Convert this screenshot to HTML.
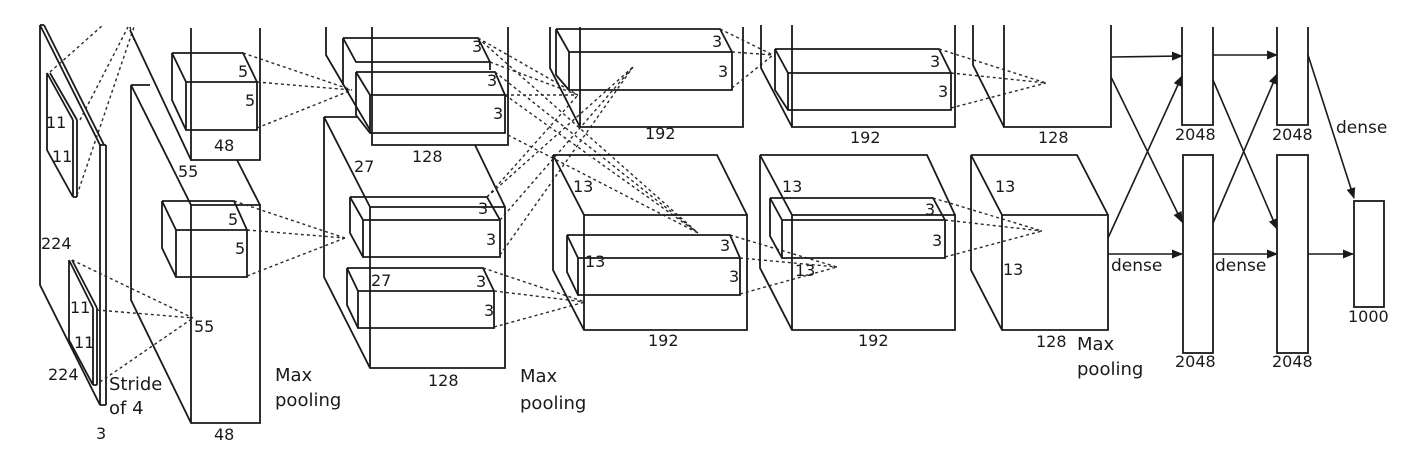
<!DOCTYPE html>
<html><head><meta charset="utf-8"><style>
html,body{margin:0;padding:0;background:#fff;}
svg{display:block;}
text{font-family:"DejaVu Sans","Liberation Sans",sans-serif;font-size:16px;fill:#1a1a1a;}
.s{stroke:#1a1a1a;stroke-width:1.8;fill:none;}
.d{stroke:#2a2a2a;stroke-width:1.4;stroke-dasharray:3,3;fill:none;}
.a{stroke:#1a1a1a;stroke-width:1.6;fill:none;marker-end:url(#ar);}
</style></head><body>
<svg width="1425" height="461" viewBox="0 0 1425 461" xmlns="http://www.w3.org/2000/svg">
<defs><marker id="ar" markerWidth="11" markerHeight="9" refX="10" refY="4.5" orient="auto" markerUnits="userSpaceOnUse"><path d="M0,0 L11,4.5 L0,9 Z" fill="#1a1a1a"/></marker></defs>

<!-- Input layer -->
<path class="s" d="M40,25 L40,285 L100,405 M40,25 L100,145 M44,25 L104,145 M40,25 L44,25 M100,145 L100,405 M106,145 L106,405 M100,145 L106,145 M100,405 L106,405"/>
<path class="s" d="M47,73 L47,150 L73,197 M47,73 L73,120 M50,73 L77,120 M73,120 L73,197 M77,120 L77,197 M73,197 L77,197"/>
<path class="s" d="M69,260 L69,340 L93,385 M69,260 L93,308 M72,260 L97,308 M93,308 L93,385 M97,308 L97,385 M93,385 L97,385"/>
<path class="d" d="M50,72 L103,25 M80,120 L128,27 M77,195 L134,27 M130,27 L134,40"/>
<path class="d" d="M72,260 L193,318 M97,310 L193,318 M100,382 L193,318"/>
<text x="46" y="128">11</text><text x="52" y="162">11</text>
<text x="70" y="313">11</text><text x="74" y="348">11</text>
<text x="41" y="249">224</text><text x="48" y="380">224</text>
<text x="96" y="439">3</text>
<text x="109" y="390" style="font-size:18px">Stride</text><text x="109" y="414" style="font-size:18px">of 4</text>
<text x="194" y="332">55</text>

<!-- Layer 2 -->
<path class="s" d="M191,28 L191,160 L260,160 L260,28 M130,30 L191,160 M237,160 L260,205"/>
<path class="s" d="M131,85 L131,300 L191,423 L260,423 L260,205 L191,205 M131,85 L150,85 M131,85 L191,205 M191,205 L191,423"/>
<path class="s" d="M172,53 L243,53 L257,82 M172,53 L172,100 L186,130 M172,53 L186,82 L257,82 L257,130 L186,130 L186,82"/>
<path class="s" d="M162,201 L234,201 L247,230 M162,201 L162,248 L176,277 M162,201 L176,230 L247,230 L247,277 L176,277 L176,230"/>
<path class="d" d="M243,53 L352,90 M257,82 L352,90 M257,128 L352,90 M234,201 L345,238 M247,230 L345,238 M247,276 L345,238"/>
<text x="238" y="77">5</text><text x="245" y="106">5</text>
<text x="228" y="225">5</text><text x="235" y="254">5</text>
<text x="178" y="177">55</text>
<text x="214" y="151">48</text><text x="214" y="440">48</text>
<text x="275" y="381" style="font-size:18px">Max</text><text x="275" y="406" style="font-size:18px">pooling</text>

<!-- Layer 3 -->
<path class="s" d="M326,27 L326,55 L370,130 M372,27 L372,145 L508,145 L508,27 M475,145 L505,207"/>
<path class="s" d="M343,38 L478,38 L490,62 M343,38 L343,85 M343,38 L356,62 L490,62 L490,70"/>
<path class="s" d="M356,72 L495,72 L505,95 M356,72 L356,115 L370,133 M356,72 L370,95 L505,95 L505,133 L370,133 L370,95"/>
<path class="s" d="M324,117 L324,277 L370,368 L505,368 L505,207 L370,207 M324,117 L357,117 M324,117 L370,207 M370,207 L370,368"/>
<path class="s" d="M350,197 L487,197 L500,220 M350,197 L350,233 L363,257 M350,197 L363,220 L500,220 L500,257 L363,257 L363,220"/>
<path class="s" d="M347,268 L483,268 L494,291 M347,268 L347,305 L358,328 M347,268 L358,291 L494,291 L494,328 L358,328 L358,291"/>
<path class="d" d="M478,38 L578,95 M490,62 L578,95 M505,95 L578,95 M478,38 L698,233 M495,72 L698,233 M505,95 L698,233 M508,135 L698,233"/>
<path class="d" d="M487,197 L633,67 M500,220 L633,67 M500,255 L633,67 M487,197 L578,95"/>
<path class="d" d="M483,268 L585,302 M494,291 L585,302 M494,327 L585,302"/>
<text x="472" y="52">3</text><text x="487" y="86">3</text><text x="493" y="119">3</text>
<text x="478" y="214">3</text><text x="486" y="245">3</text>
<text x="476" y="287">3</text><text x="484" y="316">3</text>
<text x="354" y="172">27</text><text x="371" y="286">27</text>
<text x="412" y="162">128</text><text x="428" y="386">128</text>
<text x="520" y="382" style="font-size:18px">Max</text><text x="520" y="409" style="font-size:18px">pooling</text>

<!-- Layer 4 -->
<path class="s" d="M550,27 L550,68 L580,127 M580,27 L580,127 L743,127 L743,27"/>
<path class="s" d="M556,29 L720,29 L732,52 M556,29 L556,75 L569,90 M556,29 L569,52 L732,52 L732,90 L569,90 L569,52"/>
<path class="s" d="M553,155 L717,155 L747,215 M553,155 L553,270 L584,330 L747,330 L747,215 L584,215 M553,155 L584,215 L584,330"/>
<path class="s" d="M567,235 L730,235 L740,258 M567,235 L567,272 L578,295 M567,235 L578,258 L740,258 L740,295 L578,295 L578,258"/>
<path class="d" d="M720,29 L773,55 M732,52 L773,55 M732,88 L773,55"/>
<path class="d" d="M730,235 L837,267 M740,258 L837,267 M740,294 L837,267"/>
<text x="712" y="47">3</text><text x="718" y="77">3</text>
<text x="573" y="192">13</text><text x="585" y="267">13</text>
<text x="720" y="251">3</text><text x="729" y="282">3</text>
<text x="645" y="139">192</text><text x="648" y="346">192</text>

<!-- Layer 5 -->
<path class="s" d="M761,25 L761,68 L792,127 M792,25 L792,127 L955,127 L955,25"/>
<path class="s" d="M775,49 L939,49 L951,73 M775,49 L775,90 L788,110 M775,49 L788,73 L951,73 L951,110 L788,110 L788,73"/>
<path class="s" d="M760,155 L927,155 L955,215 M760,155 L760,268 L792,330 L955,330 L955,215 L792,215 M760,155 L792,215 L792,330"/>
<path class="s" d="M770,198 L933,198 L945,220 M770,198 L770,236 L782,258 M770,198 L782,220 L945,220 L945,258 L782,258 L782,220"/>
<path class="d" d="M939,49 L1046,83 M951,73 L1046,83 M951,108 L1046,83"/>
<path class="d" d="M933,198 L1042,231 M945,220 L1042,231 M945,257 L1042,231"/>
<text x="930" y="67">3</text><text x="938" y="97">3</text>
<text x="782" y="192">13</text><text x="795" y="276">13</text>
<text x="925" y="215">3</text><text x="932" y="246">3</text>
<text x="850" y="143">192</text><text x="858" y="346">192</text>

<!-- Layer 6 -->
<path class="s" d="M973,25 L973,65 L1004,127 M1004,25 L1004,127 L1111,127 L1111,25"/>
<path class="s" d="M971,155 L1077,155 L1108,215 M971,155 L971,270 L1002,330 L1108,330 L1108,215 L1002,215 M971,155 L1002,215 L1002,330"/>
<text x="995" y="192">13</text><text x="1003" y="275">13</text>
<text x="1038" y="143">128</text><text x="1036" y="347">128</text>
<text x="1077" y="350" style="font-size:18px">Max</text><text x="1077" y="375" style="font-size:18px">pooling</text>

<!-- Dense -->
<path class="a" d="M1111,57 L1182,56"/>
<path class="a" d="M1111,77 L1182,222"/>
<path class="a" d="M1108,238 L1182,76"/>
<path class="a" d="M1108,254 L1182,254"/>
<text x="1111" y="271" style="font-size:17px">dense</text>
<path class="s" d="M1182,27 L1182,125 L1213,125 L1213,27"/>
<rect class="s" x="1183" y="155" width="30" height="198"/>
<text x="1175" y="140">2048</text><text x="1175" y="367">2048</text>
<path class="a" d="M1213,55 L1277,55"/>
<path class="a" d="M1213,80 L1277,229"/>
<path class="a" d="M1213,223 L1277,74"/>
<path class="a" d="M1213,254 L1277,254"/>
<text x="1215" y="271" style="font-size:17px">dense</text>
<path class="s" d="M1277,27 L1277,125 L1308,125 L1308,27"/>
<rect class="s" x="1277" y="155" width="31" height="198"/>
<text x="1272" y="140">2048</text><text x="1272" y="367">2048</text>
<path class="a" d="M1308,55 L1354,198"/>
<path class="a" d="M1308,254 L1353,254"/>
<text x="1336" y="133" style="font-size:17px">dense</text>
<rect class="s" x="1354" y="201" width="30" height="106"/>
<text x="1348" y="322">1000</text>
</svg>
</body></html>
